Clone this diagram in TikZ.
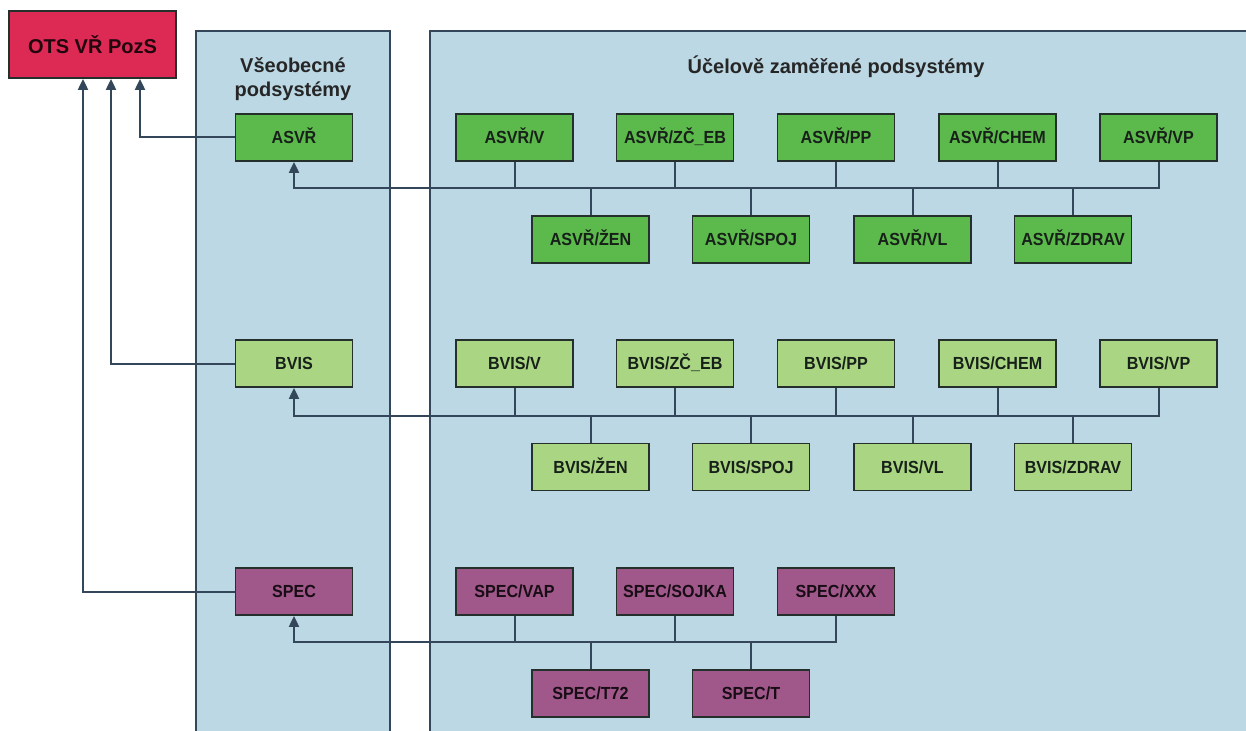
\documentclass[tikz,border=0pt]{standalone}
\usepackage{fontspec}
\setmainfont{Liberation Sans}
\newfontfamily\boxfont[FakeStretch=0.92]{Liberation Sans}
\usetikzlibrary{arrows.meta}
\definecolor{panel}{HTML}{BCD8E4}
\definecolor{ots}{HTML}{DC2A55}
\definecolor{gA}{HTML}{5CB94B}
\definecolor{gB}{HTML}{AAD683}
\definecolor{pS}{HTML}{A0588A}
\definecolor{ln}{HTML}{34475A}
\definecolor{bd}{HTML}{25302C}
\definecolor{txt}{HTML}{17211A}
\tikzset{
  box/.style={draw=bd, line width=1.8pt, minimum width=117pt, minimum height=47pt, inner sep=0pt,
     text height=12.5pt, text depth=0pt,
     font=\boxfont\fontsize{17.5}{20}\selectfont\bfseries, text=txt},
  boxA/.style={box, fill=gA},
  boxB/.style={box, fill=gB},
  boxS/.style={box, fill=pS, text=black!85!pS},
  conn/.style={draw=ln, line width=2pt},
  arr/.style={conn, -{Triangle[width=10pt,length=11pt]}},
  hdr/.style={font=\fontsize{20}{24}\selectfont\bfseries, text=black!85, align=center, inner sep=0pt},
}
\begin{document}
\begin{tikzpicture}[x=1pt,y=-1pt]
\useasboundingbox (0,0) rectangle (1246,730);
\fill[white] (0,0) rectangle (1246,730);
% panels
\fill[panel] (196,31) rectangle (390,732);
\draw[ln, line width=1.8pt] (196,732) -- (196,31) -- (390,31) -- (390,732);
\fill[panel] (430,31) rectangle (1250,732);
\draw[ln, line width=1.8pt] (430,732) -- (430,31) -- (1250,31);
\node[hdr] (hL) at (293,79) {Všeobecné\\podsystémy};
\node[hdr] (hR) at (836,67) {Účelově zaměřené podsystémy};
% OTS
\node[draw=bd, line width=1.8pt, fill=ots, minimum width=167pt, minimum height=67pt, inner sep=0pt,
  font=\fontsize{20}{24}\selectfont\bfseries, text=black!85!ots] (ots) at (92.5,44.5) {OTS VŘ PozS};
% ASVR row
\node[boxA] (asvr) at (294,137.5) {ASVŘ};
\node[boxA] (a1) at (514.5,137.5) {ASVŘ/V};
\node[boxA] (a2) at (675,137.5) {ASVŘ/ZČ\_EB};
\node[boxA] (a3) at (836,137.5) {ASVŘ/PP};
\node[boxA] (a4) at (997.5,137.5) {ASVŘ/CHEM};
\node[boxA] (a5) at (1158.5,137.5) {ASVŘ/VP};
\node[boxA] (a6) at (590.5,239.5) {ASVŘ/ŽEN};
\node[boxA] (a7) at (751,239.5) {ASVŘ/SPOJ};
\node[boxA] (a8) at (912.5,239.5) {ASVŘ/VL};
\node[boxA] (a9) at (1073,239.5) {ASVŘ/ZDRAV};
\coordinate (ba) at (294,188);
\draw[arr] (a5.south) |- (ba) -- (asvr.south);
\foreach \n in {a1,a2,a3,a4} \draw[conn] (\n.south) -- (\n.south |- ba);
\foreach \n in {a6,a7,a8,a9} \draw[conn] (\n.north) -- (\n.north |- ba);
% BVIS row
\node[boxB] (bvis) at (294,363.5) {BVIS};
\node[boxB] (b1) at (514.5,363.5) {BVIS/V};
\node[boxB] (b2) at (675,363.5) {BVIS/ZČ\_EB};
\node[boxB] (b3) at (836,363.5) {BVIS/PP};
\node[boxB] (b4) at (997.5,363.5) {BVIS/CHEM};
\node[boxB] (b5) at (1158.5,363.5) {BVIS/VP};
\node[boxB] (b6) at (590.5,467) {BVIS/ŽEN};
\node[boxB] (b7) at (751,467) {BVIS/SPOJ};
\node[boxB] (b8) at (912.5,467) {BVIS/VL};
\node[boxB] (b9) at (1073,467) {BVIS/ZDRAV};
\coordinate (bb) at (294,416);
\draw[arr] (b5.south) |- (bb) -- (bvis.south);
\foreach \n in {b1,b2,b3,b4} \draw[conn] (\n.south) -- (\n.south |- bb);
\foreach \n in {b6,b7,b8,b9} \draw[conn] (\n.north) -- (\n.north |- bb);
% SPEC row
\node[boxS] (spec) at (294,591.5) {SPEC};
\node[boxS] (s1) at (514.5,591.5) {SPEC/VAP};
\node[boxS] (s2) at (675,591.5) {SPEC/SOJKA};
\node[boxS] (s3) at (836,591.5) {SPEC/XXX};
\node[boxS] (s4) at (590.5,693.5) {SPEC/T72};
\node[boxS] (s5) at (751,693.5) {SPEC/T};
\coordinate (bs) at (294,642);
\draw[arr] (s3.south) |- (bs) -- (spec.south);
\foreach \n in {s1,s2} \draw[conn] (\n.south) -- (\n.south |- bs);
\foreach \n in {s4,s5} \draw[conn] (\n.north) -- (\n.north |- bs);
% to OTS
\draw[arr] (asvr.west) -| ([xshift=47.5pt]ots.south);
\draw[arr] (bvis.west) -| ([xshift=18.5pt]ots.south);
\draw[arr] (spec.west) -| ([xshift=-9.5pt]ots.south);
\end{tikzpicture}
\end{document}
